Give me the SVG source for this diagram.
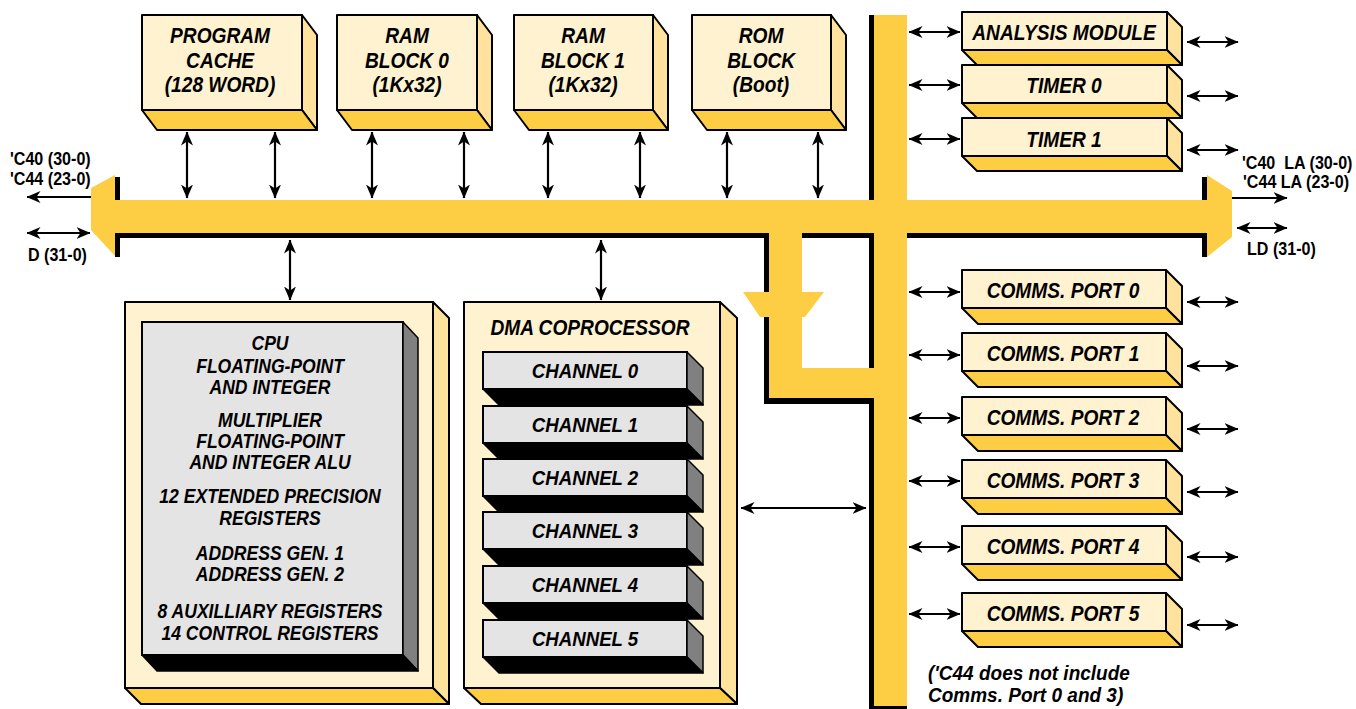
<svg xmlns="http://www.w3.org/2000/svg" width="1356" height="709" viewBox="0 0 1356 709">
<defs>
<marker id="ah" viewBox="0 0 14 12" refX="13.5" refY="6" markerWidth="14" markerHeight="12" markerUnits="userSpaceOnUse" orient="auto-start-reverse"><path d="M0,0 L14,6 L0,12 L4,6 Z" fill="#000"/></marker>
<style>
.front{fill:#FFF2D0;stroke:#000;stroke-width:2;stroke-linejoin:round}
.side{fill:#FFE29E;stroke:#000;stroke-width:2;stroke-linejoin:round}
.bot{fill:#FDCD44;stroke:#000;stroke-width:2;stroke-linejoin:round}
.gfront{fill:#E4E4E4;stroke:#000;stroke-width:2}
.gside{fill:#808080;stroke:#000;stroke-width:1.5;stroke-linejoin:round}
.gbot{fill:#000;stroke:#000;stroke-width:1.5;stroke-linejoin:round}
.bus{fill:#FDCD44}
.sh{fill:#000}
.t{font-family:"Liberation Sans",Arial,sans-serif;font-weight:bold;font-style:italic;text-anchor:middle;fill:#000;transform-box:fill-box;transform-origin:50% 50%}
.m{font-size:22px;transform:scaleX(0.87)}
.c{font-size:19.5px;transform:scaleX(0.9)}
.ch{font-size:20.5px;transform:scaleX(0.91)}
.fn{font-size:20px;text-anchor:start;transform-origin:0% 50%;transform:scaleX(0.95)}
.l{font-family:"Liberation Sans",Arial,sans-serif;font-weight:bold;font-size:17.5px;fill:#000;transform-box:fill-box;transform-origin:0% 50%;transform:scaleX(0.92)}
.a{stroke:#000;stroke-width:2.2;fill:none;marker-start:url(#ah);marker-end:url(#ah)}
.a1{stroke:#000;stroke-width:2.2;fill:none;marker-end:url(#ah)}
</style>
</defs>
<rect width="1356" height="709" fill="#fff"/>

<g id="bus">
<rect class="sh" x="115" y="177" width="5" height="80"/>
<rect class="sh" x="1202" y="177" width="5" height="80"/>
<rect class="sh" x="120" y="233" width="649" height="5"/>
<rect class="sh" x="764" y="233" width="5" height="171"/>
<rect class="sh" x="764" y="398" width="110" height="6"/>
<rect class="sh" x="802" y="233" width="72" height="5"/>
<rect class="sh" x="869" y="15" width="5" height="694"/>
<rect class="sh" x="907" y="233" width="295" height="5"/>
<rect class="sh" x="869" y="705" width="38" height="4"/>
<rect class="bus" x="115" y="200" width="1092" height="33"/>
<polygon class="bus" points="91,188 115,175 115,256 91,230"/>
<polygon class="bus" points="1207,175 1232,191 1232,237 1207,257"/>
<rect class="bus" x="874" y="15" width="33" height="691"/>
<rect class="bus" x="769" y="233" width="33" height="165"/>
<rect class="bus" x="769" y="368" width="105" height="30"/>
<polygon class="bus" points="743,292 824,292 805,317 760,317"/>
</g>

<g id="program-cache">
<rect class="front" x="142" y="15" width="160" height="95"/>
<polygon class="side" points="302,15 317,35 317,130 302,110"/>
<polygon class="bot" points="142,110 302,110 317,130 157,130"/>
<text class="t m" x="220" y="43">PROGRAM</text>
<text class="t m" x="220" y="68">CACHE</text>
<text class="t m" x="220" y="92">(128 WORD)</text>
</g>
<g id="ram-block-0">
<rect class="front" x="337" y="15" width="140" height="95"/>
<polygon class="side" points="477,15 492,35 492,130 477,110"/>
<polygon class="bot" points="337,110 477,110 492,130 352,130"/>
<text class="t m" x="407" y="43">RAM</text>
<text class="t m" x="407" y="68">BLOCK 0</text>
<text class="t m" x="407" y="92">(1Kx32)</text>
</g>
<g id="ram-block-1">
<rect class="front" x="514" y="15" width="139" height="95"/>
<polygon class="side" points="653,15 668,35 668,130 653,110"/>
<polygon class="bot" points="514,110 653,110 668,130 529,130"/>
<text class="t m" x="583" y="43">RAM</text>
<text class="t m" x="583" y="68">BLOCK 1</text>
<text class="t m" x="583" y="92">(1Kx32)</text>
</g>
<g id="rom-block">
<rect class="front" x="692" y="15" width="139" height="95"/>
<polygon class="side" points="831,15 846,35 846,130 831,110"/>
<polygon class="bot" points="692,110 831,110 846,130 707,130"/>
<text class="t m" x="761" y="43">ROM</text>
<text class="t m" x="761" y="68">BLOCK</text>
<text class="t m" x="761" y="92">(Boot)</text>
</g>

<g id="analysis-module">
<rect class="front" x="962" y="12" width="205" height="38"/>
<polygon class="side" points="1167,12 1182,27 1182,65 1167,50"/>
<polygon class="bot" points="962,50 1167,50 1182,65 977,65"/>
<text class="t m" x="1064" y="40">ANALYSIS MODULE</text>
</g>
<g id="timer-0">
<rect class="front" x="962" y="65" width="205" height="38"/>
<polygon class="side" points="1167,65 1182,80 1182,118 1167,103"/>
<polygon class="bot" points="962,103 1167,103 1182,118 977,118"/>
<text class="t m" x="1064" y="93">TIMER 0</text>
</g>
<g id="timer-1">
<rect class="front" x="962" y="118" width="205" height="38"/>
<polygon class="side" points="1167,118 1182,133 1182,171 1167,156"/>
<polygon class="bot" points="962,156 1167,156 1182,171 977,171"/>
<text class="t m" x="1064" y="147">TIMER 1</text>
</g>

<g id="comms-port-0">
<rect class="front" x="962" y="270" width="204" height="38"/>
<polygon class="side" points="1166,270 1182,286 1182,324 1166,308"/>
<polygon class="bot" points="962,308 1166,308 1182,324 978,324"/>
<text class="t m" x="1063" y="298">COMMS. PORT 0</text>
</g>
<g id="comms-port-1">
<rect class="front" x="962" y="333" width="204" height="38"/>
<polygon class="side" points="1166,333 1182,349 1182,387 1166,371"/>
<polygon class="bot" points="962,371 1166,371 1182,387 978,387"/>
<text class="t m" x="1063" y="361">COMMS. PORT 1</text>
</g>
<g id="comms-port-2">
<rect class="front" x="962" y="397" width="204" height="38"/>
<polygon class="side" points="1166,397 1182,413 1182,451 1166,435"/>
<polygon class="bot" points="962,435 1166,435 1182,451 978,451"/>
<text class="t m" x="1063" y="425">COMMS. PORT 2</text>
</g>
<g id="comms-port-3">
<rect class="front" x="962" y="460" width="204" height="38"/>
<polygon class="side" points="1166,460 1182,476 1182,514 1166,498"/>
<polygon class="bot" points="962,498 1166,498 1182,514 978,514"/>
<text class="t m" x="1063" y="488">COMMS. PORT 3</text>
</g>
<g id="comms-port-4">
<rect class="front" x="962" y="526" width="204" height="38"/>
<polygon class="side" points="1166,526 1182,542 1182,580 1166,564"/>
<polygon class="bot" points="962,564 1166,564 1182,580 978,580"/>
<text class="t m" x="1063" y="554">COMMS. PORT 4</text>
</g>
<g id="comms-port-5">
<rect class="front" x="962" y="593" width="204" height="38"/>
<polygon class="side" points="1166,593 1182,609 1182,647 1166,631"/>
<polygon class="bot" points="962,631 1166,631 1182,647 978,647"/>
<text class="t m" x="1063" y="621">COMMS. PORT 5</text>
</g>

<g id="cpu">
<rect class="front" x="125" y="302" width="308" height="386"/>
<polygon class="side" points="433,302 449,318 449,704 433,688"/>
<polygon class="bot" points="125,688 433,688 449,704 141,704"/>
<rect class="gfront" x="142" y="322" width="261" height="333"/>
<polygon class="gside" points="403,322 418,338 418,671 403,655"/>
<polygon class="gbot" points="142,655 403,655 418,671 157,671"/>
<text class="t c" x="270" y="350">CPU</text>
<text class="t c" x="270" y="373">FLOATING-POINT</text>
<text class="t c" x="270" y="394">AND INTEGER</text>
<text class="t c" x="270" y="427">MULTIPLIER</text>
<text class="t c" x="270" y="448">FLOATING-POINT</text>
<text class="t c" x="270" y="469">AND INTEGER ALU</text>
<text class="t c" x="270" y="503">12 EXTENDED PRECISION</text>
<text class="t c" x="270" y="525">REGISTERS</text>
<text class="t c" x="270" y="560">ADDRESS GEN. 1</text>
<text class="t c" x="270" y="581">ADDRESS GEN. 2</text>
<text class="t c" x="270" y="618">8 AUXILLIARY REGISTERS</text>
<text class="t c" x="270" y="640">14 CONTROL REGISTERS</text>
</g>

<g id="dma-coprocessor">
<rect class="front" x="464" y="302" width="256" height="386"/>
<polygon class="side" points="720,302 737,318 737,704 720,688"/>
<polygon class="bot" points="464,688 720,688 737,704 481,704"/>
<text class="t m" x="590" y="335">DMA COPROCESSOR</text>
<g id="channel-0">
<rect class="gfront" x="483" y="352" width="204" height="37"/>
<polygon class="gside" points="687,352 703,368 703,405 687,389"/>
<polygon class="gbot" points="483,389 687,389 703,405 499,405"/>
<text class="t ch" x="585" y="378">CHANNEL 0</text>
</g>
<g id="channel-1">
<rect class="gfront" x="483" y="406" width="204" height="37"/>
<polygon class="gside" points="687,406 703,422 703,459 687,443"/>
<polygon class="gbot" points="483,443 687,443 703,459 499,459"/>
<text class="t ch" x="585" y="432">CHANNEL 1</text>
</g>
<g id="channel-2">
<rect class="gfront" x="483" y="459" width="204" height="37"/>
<polygon class="gside" points="687,459 703,475 703,512 687,496"/>
<polygon class="gbot" points="483,496 687,496 703,512 499,512"/>
<text class="t ch" x="585" y="485">CHANNEL 2</text>
</g>
<g id="channel-3">
<rect class="gfront" x="483" y="512" width="204" height="37"/>
<polygon class="gside" points="687,512 703,528 703,565 687,549"/>
<polygon class="gbot" points="483,549 687,549 703,565 499,565"/>
<text class="t ch" x="585" y="538">CHANNEL 3</text>
</g>
<g id="channel-4">
<rect class="gfront" x="483" y="566" width="204" height="37"/>
<polygon class="gside" points="687,566 703,582 703,619 687,603"/>
<polygon class="gbot" points="483,603 687,603 703,619 499,619"/>
<text class="t ch" x="585" y="592">CHANNEL 4</text>
</g>
<g id="channel-5">
<rect class="gfront" x="483" y="620" width="204" height="37"/>
<polygon class="gside" points="687,620 703,636 703,673 687,657"/>
<polygon class="gbot" points="483,657 687,657 703,673 499,673"/>
<text class="t ch" x="585" y="646">CHANNEL 5</text>
</g>
</g>

<g id="labels">
<text class="l" x="10" y="165">'C40 (30-0)</text>
<text class="l" x="10" y="185">'C44 (23-0)</text>
<text class="l" x="28" y="261">D (31-0)</text>
<text class="l" x="1242" y="169" style="white-space:pre">'C40  LA (30-0)</text>
<text class="l" x="1243" y="188">'C44 LA (23-0)</text>
<text class="l" x="1247" y="255">LD (31-0)</text>
<text class="t fn" x="928" y="680">('C44 does not include</text>
<text class="t fn" x="928" y="702">Comms. Port 0 and 3)</text>
</g>

<g id="connectors">
<line class="a" x1="187" y1="132" x2="187" y2="198"/>
<line class="a" x1="275" y1="132" x2="275" y2="198"/>
<line class="a" x1="372" y1="132" x2="372" y2="198"/>
<line class="a" x1="464" y1="132" x2="464" y2="198"/>
<line class="a" x1="548" y1="132" x2="548" y2="198"/>
<line class="a" x1="640" y1="132" x2="640" y2="198"/>
<line class="a" x1="727" y1="132" x2="727" y2="198"/>
<line class="a" x1="818" y1="132" x2="818" y2="198"/>
<line class="a" x1="290" y1="240" x2="290" y2="300"/>
<line class="a" x1="601" y1="240" x2="601" y2="300"/>
<line class="a" x1="741" y1="508" x2="866" y2="508"/>
<line class="a" x1="909" y1="32" x2="960" y2="32"/>
<line class="a" x1="909" y1="85" x2="960" y2="85"/>
<line class="a" x1="909" y1="139" x2="960" y2="139"/>
<line class="a" x1="1187" y1="42" x2="1238" y2="42"/>
<line class="a" x1="1187" y1="96" x2="1238" y2="96"/>
<line class="a" x1="1187" y1="150" x2="1238" y2="150"/>
<line class="a" x1="909" y1="292" x2="960" y2="292"/>
<line class="a" x1="909" y1="355" x2="960" y2="355"/>
<line class="a" x1="909" y1="418" x2="960" y2="418"/>
<line class="a" x1="909" y1="481" x2="960" y2="481"/>
<line class="a" x1="909" y1="547" x2="960" y2="547"/>
<line class="a" x1="909" y1="614" x2="960" y2="614"/>
<line class="a" x1="1187" y1="302" x2="1238" y2="302"/>
<line class="a" x1="1187" y1="366" x2="1238" y2="366"/>
<line class="a" x1="1187" y1="429" x2="1238" y2="429"/>
<line class="a" x1="1187" y1="492" x2="1238" y2="492"/>
<line class="a" x1="1187" y1="557" x2="1238" y2="557"/>
<line class="a" x1="1187" y1="625" x2="1238" y2="625"/>
<line class="a1" x1="91" y1="197" x2="27" y2="197"/>
<line class="a" x1="27" y1="233" x2="90" y2="233"/>
<line class="a1" x1="1232" y1="198" x2="1287" y2="198"/>
<line class="a" x1="1237" y1="228" x2="1287" y2="228"/>
</g>
</svg>
